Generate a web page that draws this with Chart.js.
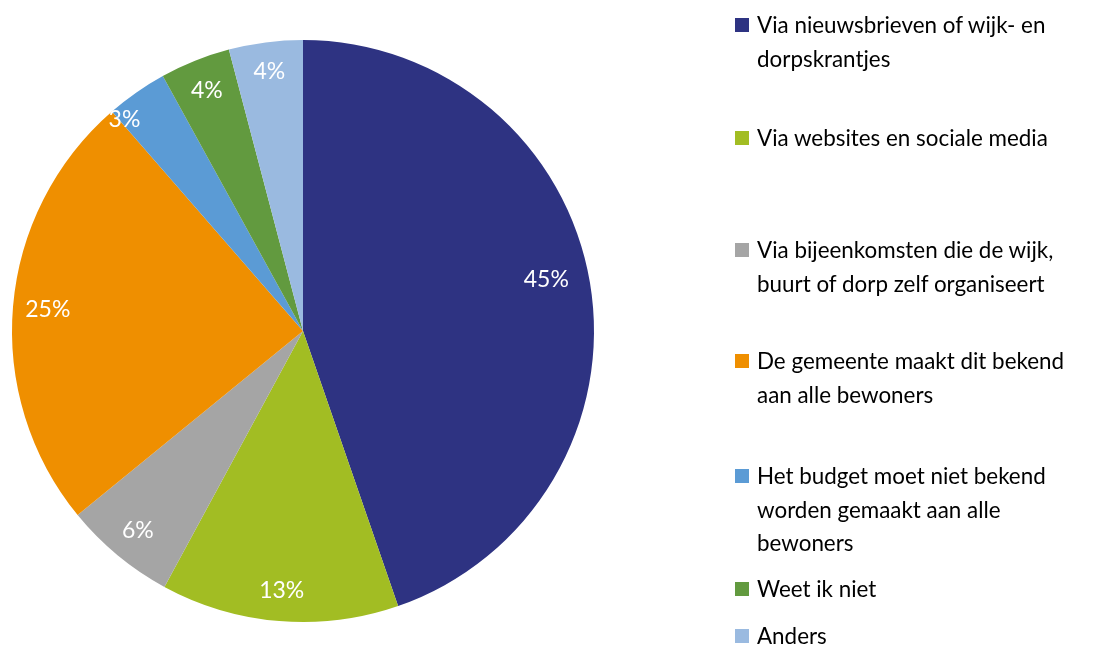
<!DOCTYPE html>
<html>
<head>
<meta charset="utf-8">
<script src="https://cdn.jsdelivr.net/npm/chart.js@4/dist/chart.umd.min.js"></script>
<style>
  html, body { margin: 0; padding: 0; background: #fff; }
  #wrap { position: relative; width: 1106px; height: 646px; overflow: hidden; }
  #c { position: absolute; left: 0; top: 0; }
  .item { position: absolute; left: 735px; font-family: Lato, "Open Sans", sans-serif; font-size: 22.4px; color: #000; line-height: 33.5px; white-space: nowrap; }
  .sw { position: absolute; left: 0; top: 10px; width: 14px; height: 14px; }
  .txt { position: absolute; left: 22px; top: 0; }
</style>
</head>
<body>
<div id="wrap">
  <canvas id="c" width="1106" height="646"></canvas>
</div>
<script>
const categories = [
  ["Via nieuwsbrieven of wijk- en", "dorpskrantjes"],
  ["Via websites en sociale media"],
  ["Via bijeenkomsten die de wijk,", "buurt of dorp zelf organiseert"],
  ["De gemeente maakt dit bekend", "aan alle bewoners"],
  ["Het budget moet niet bekend", "worden gemaakt aan alle", "bewoners"],
  ["Weet ik niet"],
  ["Anders"]
];
const values = [44.7, 13.2, 6.2, 24.5, 3.4, 3.9, 4.1];
const colors = ["#2E3382", "#A2BD23", "#A5A5A5", "#EF8F00", "#5B9BD5", "#629A3F", "#9ABAE0"];
const legendTops = [8, 121, 233, 344, 459, 572, 619];
const labelRadius = [0.855, 0.895, 0.89, 0.88, 0.95, 0.89, 0.9];
const labelAngleShift = [-2.5, 0, 0, 0, -5.3, 0, 0];

const labelPlugin = {
  id: 'sliceLabels',
  afterDatasetsDraw(chart) {
    const ctx = chart.ctx;
    const meta = chart.getDatasetMeta(0);
    ctx.save();
    ctx.fillStyle = '#fff';
    ctx.font = '23px Lato, "Open Sans", sans-serif';
    ctx.textAlign = 'center';
    ctx.textBaseline = 'middle';
    meta.data.forEach((arc, i) => {
      const p = arc.getProps(['x', 'y', 'startAngle', 'endAngle', 'outerRadius']);
      const mid = (p.startAngle + p.endAngle) / 2 + labelAngleShift[i] * Math.PI / 180;
      const r = p.outerRadius * labelRadius[i];
      ctx.fillText(Math.round(values[i]) + '%', p.x + Math.cos(mid) * r, p.y + Math.sin(mid) * r);
    });
    ctx.restore();
  }
};

new Chart(document.getElementById('c'), {
  type: 'pie',
  data: {
    labels: categories.map(l => l.join(' ')),
    datasets: [{
      data: values,
      backgroundColor: colors,
      borderWidth: 0
    }]
  },
  options: {
    responsive: false,
    animation: false,
    layout: { padding: { left: 12, right: 512, top: 40, bottom: 24 } },
    plugins: { legend: { display: false }, tooltip: { enabled: false } }
  },
  plugins: [labelPlugin]
});

const wrap = document.getElementById('wrap');
categories.forEach((lines, i) => {
  const item = document.createElement('div');
  item.className = 'item';
  item.style.top = legendTops[i] + 'px';
  const sw = document.createElement('div');
  sw.className = 'sw';
  sw.style.background = colors[i];
  const txt = document.createElement('div');
  txt.className = 'txt';
  txt.innerHTML = lines.join('<br>');
  item.appendChild(sw);
  item.appendChild(txt);
  wrap.appendChild(item);
});
</script>
</body>
</html>
